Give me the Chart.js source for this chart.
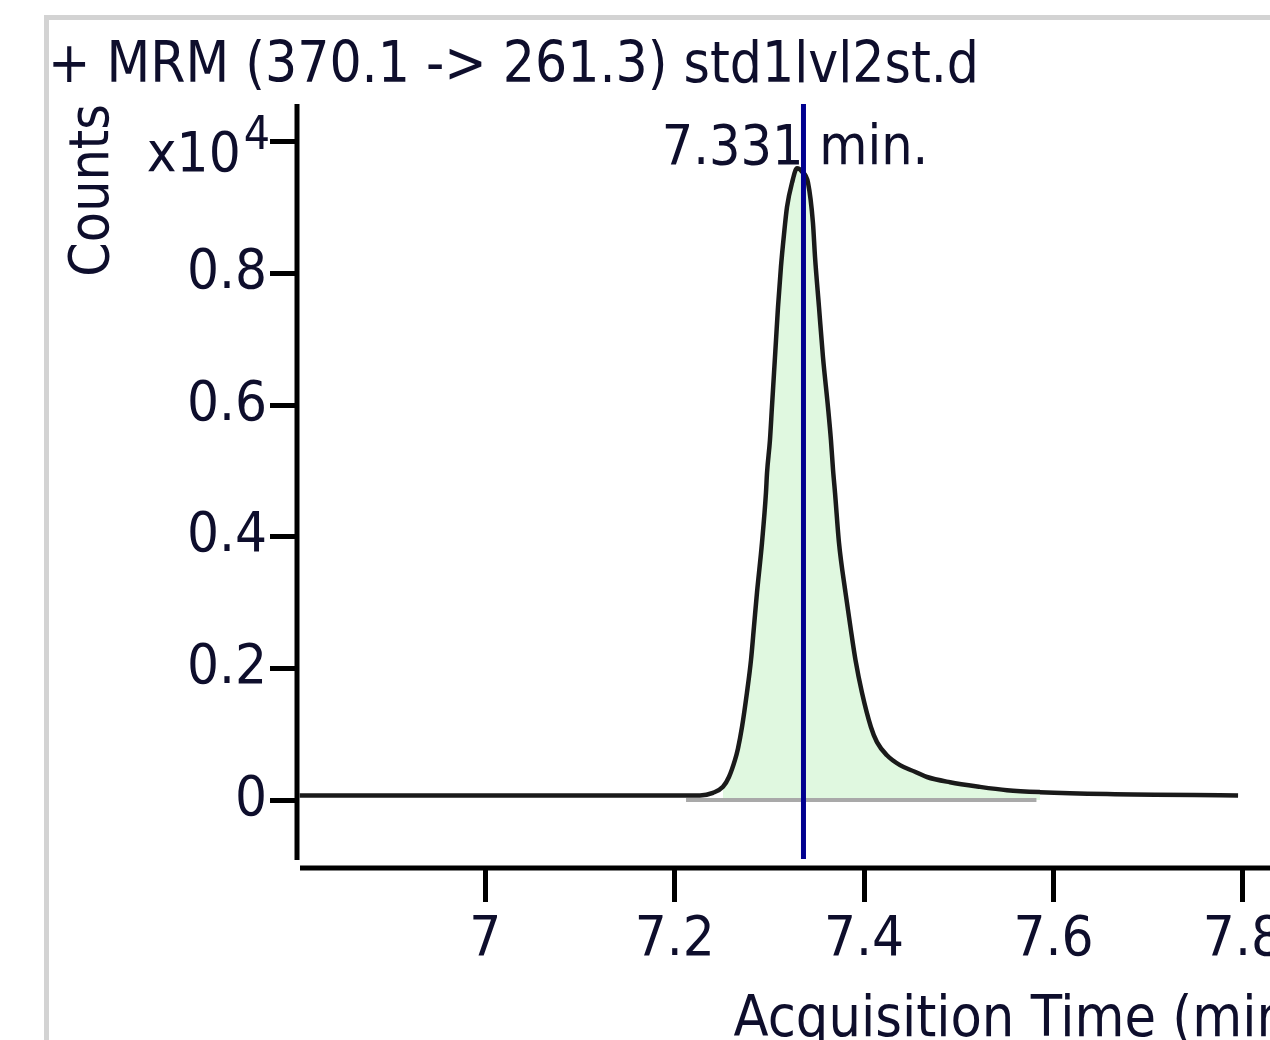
<!DOCTYPE html>
<html>
<head>
<meta charset="utf-8">
<script src="https://cdn.jsdelivr.net/npm/chart.js@4.4.1/dist/chart.umd.min.js"></script>
<style>
  html, body { margin: 0; padding: 0; background: #ffffff; overflow: hidden; width: 1270px; height: 1040px; }
  #frame { position: absolute; left: 44px; top: 15px; width: 1300px; height: 1100px;
           border-left: 5px solid #d3d3d3; border-top: 5px solid #d3d3d3; }
  #c { position: absolute; left: 0; top: 0; }
</style>
</head>
<body>
<div id="frame"></div>
<canvas id="c" width="1316" height="1100"></canvas>
<script>
// ---- text ----
const chartTitle = '+ MRM (370.1 -> 261.3) std1lvl2st.d';
const xAxisTitle = 'Acquisition Time (min)';
const yAxisTitle = 'Counts';
const yScaleExponent = ['x10', '4'];
const peakLabel = '7.331 min.';

// ---- data (x: acquisition time, min; y: counts x10^4) ----
const retentionTime = [
  6.804, 7.000, 7.2267, 7.2404, 7.2510, 7.2573, 7.2637, 7.2668, 7.2711, 7.2763,
  7.2806, 7.2837, 7.2869, 7.2922, 7.2964, 7.2975, 7.3006, 7.3027, 7.3049, 7.3070,
  7.3091, 7.3122, 7.3154, 7.3186, 7.3239, 7.3292, 7.3344, 7.3408, 7.3460, 7.3482,
  7.3524, 7.3566, 7.3619, 7.3650, 7.3672, 7.3693, 7.3735, 7.3804, 7.3856, 7.3909,
  7.3978, 7.4072, 7.4136, 7.4241, 7.4379, 7.4537, 7.4664, 7.4907, 7.5224,
  7.5509, 7.5858, 7.6566, 7.7949
];
const counts = [
  0.007, 0.007, 0.007, 0.011, 0.020, 0.035, 0.061, 0.078, 0.111, 0.163,
  0.213, 0.263, 0.315, 0.391, 0.467, 0.497, 0.547, 0.597, 0.649, 0.699,
  0.749, 0.810, 0.859, 0.901, 0.938, 0.960, 0.955, 0.938, 0.877, 0.825,
  0.749, 0.673, 0.597, 0.547, 0.502, 0.467, 0.391, 0.315, 0.263, 0.213,
  0.163, 0.111, 0.088, 0.068, 0.053, 0.043, 0.035, 0.027, 0.020,
  0.015, 0.012, 0.009, 0.007
];
const integrationStart = 7.251;
const integrationEnd = 7.586;
const baselineStart = 7.212;
const baselineEnd = 7.582;
const baselineLevel = 0;
const rtMarker = 7.336;

// ---- axes ----
const xRange = [6.8012, 7.8698];
const yRange = [-0.1033, 1.0578];
const xTickValues = [7.0, 7.2, 7.4, 7.6, 7.8];
const xTickLabels = ['7', '7.2', '7.4', '7.6', '7.8'];
const yTickValues = [0, 0.2, 0.4, 0.6, 0.8, 1.0];
const yTickLabels = ['0', '0.2', '0.4', '0.6', '0.8', ''];

// ---- build ----
const FAMILY = '"DejaVu Sans Condensed", "DejaVu Sans", sans-serif';
const TEXT = '#0e0e2c';

const signalPts = retentionTime.map((t, i) => ({ x: t, y: counts[i] }));
const areaPts = signalPts.filter(p => p.x >= integrationStart && p.x <= integrationEnd);
const basePts = [{ x: baselineStart, y: baselineLevel }, { x: baselineEnd, y: baselineLevel }];

const overlay = {
  id: 'overlay',
  afterDraw(chart) {
    const { ctx, chartArea: a, scales: { x, y } } = chart;
    ctx.save();
    // axis lines (separated at the corner)
    ctx.strokeStyle = '#000';
    ctx.lineWidth = 5;
    ctx.beginPath();
    ctx.moveTo(a.left, a.top);
    ctx.lineTo(a.left, a.bottom - 8);
    ctx.stroke();
    ctx.beginPath();
    ctx.moveTo(a.left + 3, a.bottom);
    ctx.lineTo(a.right, a.bottom);
    ctx.stroke();
    // retention time marker
    const mx = x.getPixelForValue(rtMarker);
    ctx.strokeStyle = '#00008f';
    ctx.lineWidth = 5;
    ctx.beginPath();
    ctx.moveTo(mx, a.top);
    ctx.lineTo(mx, a.bottom - 9);
    ctx.stroke();
    // peak label
    let k = 0;
    counts.forEach((c, i) => { if (c > counts[k]) k = i; });
    ctx.fillStyle = TEXT;
    ctx.font = '55px ' + FAMILY;
    ctx.textAlign = 'center';
    ctx.textBaseline = 'alphabetic';
    ctx.fillText(peakLabel, x.getPixelForValue(retentionTime[k]) - 2, y.getPixelForValue(counts[k]) - 4);
    // exponent label at top tick
    const ty = y.getPixelForValue(yTickValues[yTickValues.length - 1]);
    const rx = a.left - 27;
    ctx.font = '46px ' + FAMILY;
    ctx.textAlign = 'right';
    const w4 = ctx.measureText(yScaleExponent[1]).width;
    ctx.fillText(yScaleExponent[1], rx, ty + 7);
    ctx.font = '56px ' + FAMILY;
    ctx.fillText(yScaleExponent[0], rx - w4 - 3, ty + 29);
    ctx.restore();
  }
};

new Chart(document.getElementById('c'), {
  type: 'line',
  data: {
    datasets: [
      { label: 'signal', data: signalPts, borderColor: '#1a1a1a', borderWidth: 4.5,
        pointRadius: 0, cubicInterpolationMode: 'monotone', fill: false, order: 0 },
      { label: 'baseline', data: basePts, borderColor: '#a9a9a9', borderWidth: 4,
        pointRadius: 0, fill: false, order: 1 },
      { label: 'area', data: areaPts, borderWidth: 0, borderColor: 'rgba(0,0,0,0)',
        backgroundColor: '#e0f8e0', pointRadius: 0, cubicInterpolationMode: 'monotone',
        fill: 'origin', order: 2 }
    ]
  },
  options: {
    responsive: false,
    devicePixelRatio: 1,
    animation: false,
    layout: { padding: { left: 48, right: 7, top: 0, bottom: 0 } },
    plugins: {
      legend: { display: false },
      tooltip: { enabled: false },
      title: {
        display: true, text: chartTitle, align: 'start', color: TEXT,
        font: { family: FAMILY, size: 56.3, weight: 'normal', lineHeight: 1.2 },
        padding: { top: 34, bottom: 2.4 }
      }
    },
    scales: {
      x: {
        type: 'linear', min: xRange[0], max: xRange[1],
        afterBuildTicks: (axis) => { axis.ticks = xTickValues.map(v => ({ value: v })); },
        afterFit: (scale) => { scale.height = 232; },
        ticks: { callback: (v, i) => xTickLabels[i], autoSkip: false, maxRotation: 0,
                 color: TEXT, font: { family: FAMILY, size: 56 }, padding: 5 },
        grid: { display: true, drawOnChartArea: false, drawTicks: true, tickLength: 34,
                color: '#000', lineWidth: 5 },
        border: { display: false },
        title: { display: true, text: xAxisTitle, align: 'end', color: TEXT,
                 font: { family: FAMILY, size: 57 }, padding: { top: 0, bottom: 45 } }
      },
      y: {
        type: 'linear', min: yRange[0], max: yRange[1],
        afterBuildTicks: (axis) => { axis.ticks = yTickValues.map(v => ({ value: v })); },
        afterFit: (scale) => { scale.width = 249; },
        ticks: { callback: (v, i) => yTickLabels[i], autoSkip: false,
                 color: TEXT, font: { family: FAMILY, size: 56 }, padding: 3 },
        grid: { display: true, drawOnChartArea: false, drawTicks: true, tickLength: 27,
                color: '#000', lineWidth: 5 },
        border: { display: false },
        title: { display: true, text: yAxisTitle, align: 'end', color: TEXT,
                 font: { family: FAMILY, size: 55 }, padding: { top: 13, bottom: 0 } }
      }
    }
  },
  plugins: [overlay]
});
</script>
</body>
</html>
